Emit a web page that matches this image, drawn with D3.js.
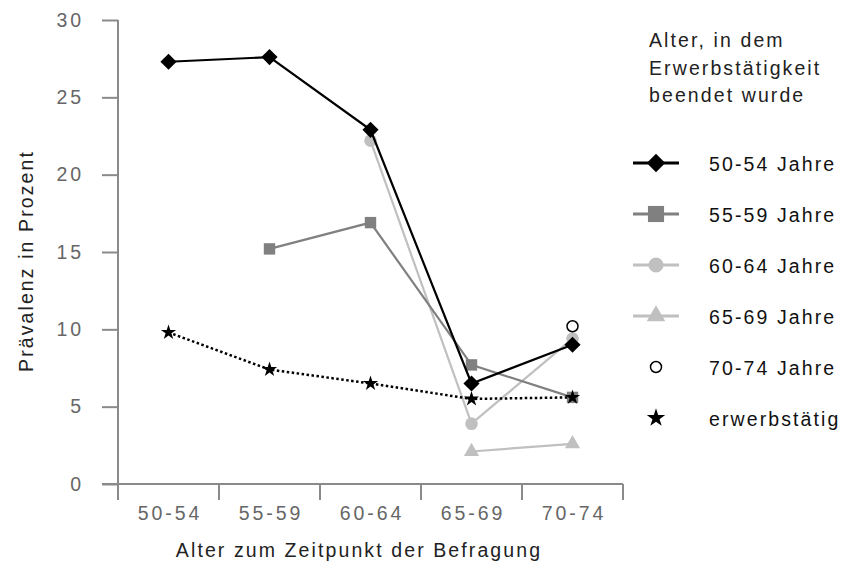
<!DOCTYPE html>
<html><head><meta charset="utf-8">
<script src="https://cdn.jsdelivr.net/npm/d3@7"></script>
<style>
body{margin:0;background:#fff;}
text{font-family:"Liberation Sans",Arial,sans-serif;}
</style></head>
<body><svg id="c" width="843" height="566"></svg>
<script>
const categories = ["50-54","55-59","60-64","65-69","70-74"];
const yTicks = [0,5,10,15,20,25,30];
const legendTitle = ["Alter, in dem","Erwerbstätigkeit","beendet wurde"];
const seriesNames = ["50-54 Jahre","55-59 Jahre","60-64 Jahre","65-69 Jahre","70-74 Jahre","erwerbstätig"];
const s5054 = [27.3,27.6,22.9,6.5,9.0];
const s5559 = [null,15.2,16.9,7.7,5.6];
const s6064 = [null,null,22.2,3.9,9.4];
const s6569 = [null,null,null,2.1,2.6];
const s7074 = [null,null,null,null,10.2];
const sErw  = [9.8,7.4,6.5,5.5,5.6];

const FS = "19.5px", LS = "2.1px", TLS = "2.9px";
const svg = d3.select("#c");
const x = d3.scaleBand().domain(categories).range([118,623]);
const y = d3.scaleLinear().domain([0,30]).range([484,20]);

const axisColor = "#8a8a8a";
const ya = svg.append("g").attr("transform","translate(118,0)")
  .call(d3.axisLeft(y).tickValues(yTicks).tickSize(16).tickPadding(18));
ya.select(".domain").remove();
ya.selectAll(".tick line").attr("stroke",axisColor).attr("stroke-width",2);
ya.selectAll(".tick text").attr("fill","#666").style("font-size",FS).style("letter-spacing",TLS)
  .attr("font-family",null);
svg.append("line").attr("x1",118).attr("x2",118).attr("y1",y(30)).attr("y2",500)
  .attr("stroke",axisColor).attr("stroke-width",2);

const xa = svg.append("g").attr("transform","translate(0,484)")
  .call(d3.axisBottom(x).tickSize(0).tickPadding(22));
xa.select(".domain").remove();
xa.selectAll(".tick text").attr("fill","#666").style("font-size",FS).style("letter-spacing",TLS)
  .attr("dx","1.5px").attr("font-family",null);
svg.append("line").attr("x1",102).attr("x2",623).attr("y1",484).attr("y2",484)
  .attr("stroke",axisColor).attr("stroke-width",2);
const edges = categories.map(c=>x(c)).concat([x.range()[1]]);
svg.selectAll(".xt").data(edges).enter().append("line")
  .attr("x1",d=>d).attr("x2",d=>d).attr("y1",484).attr("y2",500)
  .attr("stroke",axisColor).attr("stroke-width",2);

svg.append("text").attr("transform","translate(33,261) rotate(-90)")
  .attr("text-anchor","middle").attr("fill","#222").style("font-size",FS).style("letter-spacing",LS)
  .text("Prävalenz in Prozent");
svg.append("text").attr("x",359).attr("y",557).attr("text-anchor","middle")
  .attr("fill","#222").style("font-size",FS).style("letter-spacing",LS)
  .text("Alter zum Zeitpunkt der Befragung");

const cx = c => x(c)+x.bandwidth()/2;
const line = d3.line().x(d=>cx(d.c)).y(d=>y(d.v));
const toPts = arr => arr.map((v,i)=>({c:categories[i],v}));

function marker(g, m, color, px, py, big){
  if(m==="open"){
    g.append("circle").attr("cx",px).attr("cy",py).attr("r",5.5)
      .attr("fill","#fff").attr("stroke","#000").attr("stroke-width",1.5);
    return;
  }
  const types = {diamond:[d3.symbolSquare,big?170:130],square:[d3.symbolSquare,big?260:130],
    circle:[d3.symbolCircle,big?180:125],triangle:[d3.symbolTriangle,big?150:100],
    star:[d3.symbolStar,big?105:72]};
  const [t,s] = types[m];
  g.append("path").attr("d",d3.symbol().type(t).size(s)()).attr("fill",color)
    .attr("transform",`translate(${px},${py})`+(m==="diamond"?" rotate(45)":""));
}

const series = [
  {data:s6569, color:"#c0c0c0", marker:"triangle", dash:null, w:2.2},
  {data:s6064, color:"#c0c0c0", marker:"circle", dash:null, w:2.2},
  {data:s5559, color:"#808080", marker:"square", dash:null, w:2.2},
  {data:s5054, color:"#000", marker:"diamond", dash:null, w:2.2},
  {data:sErw, color:"#000", marker:"star", dash:"2.5,2.5", w:2.5},
  {data:s7074, color:"#000", marker:"open", dash:null, w:0}
];
series.forEach(s=>{
  const pts = toPts(s.data).filter(d=>d.v!=null);
  if(pts.length>1){
    svg.append("path").attr("d",line(pts)).attr("fill","none")
      .attr("stroke",s.color).attr("stroke-width",s.w)
      .attr("stroke-dasharray",s.dash);
  }
  pts.forEach(d=>marker(svg,s.marker,s.color,cx(d.c),y(d.v),false));
});

const lg = svg.append("g");
legendTitle.forEach((t,i)=>lg.append("text").attr("x",649).attr("y",47+i*27.5)
  .attr("fill","#222").style("font-size",FS).style("letter-spacing",LS).text(t));
const legendItems = [
  {marker:"diamond",color:"#000",lw:3},
  {marker:"square",color:"#808080",lw:3},
  {marker:"circle",color:"#c0c0c0",lw:3},
  {marker:"triangle",color:"#c0c0c0",lw:3},
  {marker:"open",color:"#000",lw:0},
  {marker:"star",color:"#000",lw:0}
];
legendItems.forEach((it,i)=>{
  const yy = 163 + i*51;
  if(it.lw>0) lg.append("line").attr("x1",633).attr("x2",679).attr("y1",yy).attr("y2",yy)
    .attr("stroke",it.color).attr("stroke-width",it.lw);
  marker(lg,it.marker,it.color,656,yy,true);
  lg.append("text").attr("x",709).attr("y",yy+8).attr("fill","#111")
    .style("font-size",FS).style("letter-spacing",LS).text(seriesNames[i]);
});
</script></body></html>
